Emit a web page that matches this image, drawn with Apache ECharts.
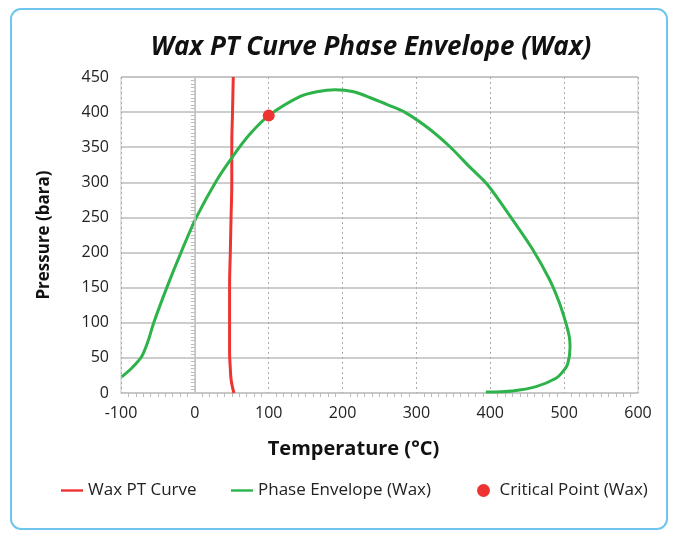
<!DOCTYPE html>
<html><head><meta charset="utf-8">
<script src="https://cdn.jsdelivr.net/npm/echarts@6/dist/echarts.min.js"></script>
<style>html,body{margin:0;padding:0;background:#fff}#c{width:675px;height:536px}</style>
</head><body><div id="c"></div>
<script>
const waxTemp = [53, 51, 49, 48, 47, 47, 47, 48, 49, 50, 50, 51, 52];
const waxPres = [0, 8, 20, 35, 60, 100, 150, 200, 250, 300, 350, 400, 450];
const envTemp = [-99, -85, -72, -63, -56, -38, -18, 2, 29, 50, 74, 100, 142, 165, 190, 215, 241, 262, 284, 315, 345, 372, 396, 428, 457, 480, 493, 502, 507, 508, 505, 498, 489, 462, 430, 394];
const envPres = [23, 36, 52, 75, 99, 150, 202, 250, 302, 335, 368, 395, 422, 429, 432, 429, 419, 410, 400, 378, 351, 322, 297, 250, 205, 162, 130, 101, 80, 66, 42, 30, 21, 9, 3, 1.5];
const critTemp = [100];
const critPres = [395];
const xTicks = [-100, 0, 100, 200, 300, 400, 500, 600];
const yTicks = [0, 50, 100, 150, 200, 250, 300, 350, 400, 450];

const zip = (a, b) => a.map((v, i) => [v, b[i]]);
const FONT = '"Open Sans", Lato, sans-serif';
const lineIcon = 'path://M0,5L22,5L22,7.4L0,7.4Z';
const legendBase = {
  bottom: 32, itemWidth: 22, itemHeight: 13,
  textStyle: {fontFamily: FONT, fontSize: 17, color: '#222'}
};
const chart = echarts.init(document.getElementById('c'), null, {renderer: 'canvas'});
chart.setOption({
  animation: false,
  backgroundColor: '#fff',
  graphic: [{
    type: 'rect', shape: {x: 11, y: 9, width: 656, height: 520, r: 10},
    style: {fill: 'none', stroke: '#6EC6EC', lineWidth: 2}, silent: true, z: -1
  }],
  title: {
    text: 'Wax PT Curve Phase Envelope (Wax)', left: 366, top: 30, textAlign: 'center',
    textStyle: {fontFamily: FONT, fontSize: 26, fontWeight: 'bold', fontStyle: 'italic', color: '#111'}
  },
  legend: [
    Object.assign({left: 56, data: [{name: 'Wax PT Curve', icon: lineIcon}]}, legendBase),
    Object.assign({left: 226, data: [{name: 'Phase Envelope (Wax)', icon: lineIcon}]}, legendBase),
    Object.assign({left: 472, data: [{name: 'Critical Point (Wax)', icon: 'circle'}]}, legendBase)
  ],
  grid: {left: 121, right: 37, top: 77, bottom: 143, show: true, borderColor: '#c8c8c8', borderWidth: 1},
  xAxis: {
    type: 'value', min: xTicks[0], max: xTicks[xTicks.length - 1], interval: 100,
    name: 'Temperature (°C)', nameLocation: 'middle', nameGap: 46,
    nameTextStyle: {fontFamily: FONT, fontSize: 20, fontWeight: 'bold', color: '#111', padding: [0, 52, 0, 0]},
    axisLine: {lineStyle: {color: '#c8c8c8'}},
    axisTick: {show: false},
    minorTick: {show: true, splitNumber: 10, length: 4, lineStyle: {color: '#bbb'}},
    axisLabel: {fontFamily: FONT, fontSize: 16, color: '#222', margin: 12},
    splitLine: {show: true, lineStyle: {color: '#aaa', type: [2, 3], width: 1}}
  },
  yAxis: {
    type: 'value', min: yTicks[0], max: yTicks[yTicks.length - 1], interval: 50,
    name: 'Pressure (bara)', nameLocation: 'middle', nameGap: 68, nameRotate: 90,
    nameTextStyle: {fontFamily: FONT, fontSize: 17, fontWeight: 'bold', color: '#111'},
    axisLine: {show: true, lineStyle: {color: '#c8c8c8'}},
    axisTick: {show: true, length: 5, lineStyle: {color: '#c8c8c8'}},
    minorTick: {show: true, splitNumber: 10, length: 4, lineStyle: {color: '#bbb'}},
    axisLabel: {fontFamily: FONT, fontSize: 16, color: '#222', margin: 12},
    splitLine: {show: true, lineStyle: {color: '#bdbdbd', width: 1.5}}
  },
  series: [
    {
      name: 'Wax PT Curve', type: 'line', data: zip(waxTemp, waxPres), smooth: true,
      symbol: 'none', lineStyle: {color: '#EE3333', width: 3}, itemStyle: {color: '#EE3333'}, z: 3,
      markLine: {
        silent: true, symbol: 'none', label: {show: false},
        lineStyle: {color: '#c2c2c2', type: 'solid', width: 1.5},
        data: [{xAxis: 0}]
      }
    },
    {
      name: 'Phase Envelope (Wax)', type: 'line', data: zip(envTemp, envPres), smooth: 0.3,
      symbol: 'none', lineStyle: {color: '#2DB34A', width: 3}, itemStyle: {color: '#2DB34A'}, z: 4
    },
    {
      name: 'Critical Point (Wax)', type: 'scatter', data: zip(critTemp, critPres), symbolSize: 12,
      itemStyle: {color: '#EE3333', opacity: 1}, z: 5
    }
  ]
});
</script></body></html>
